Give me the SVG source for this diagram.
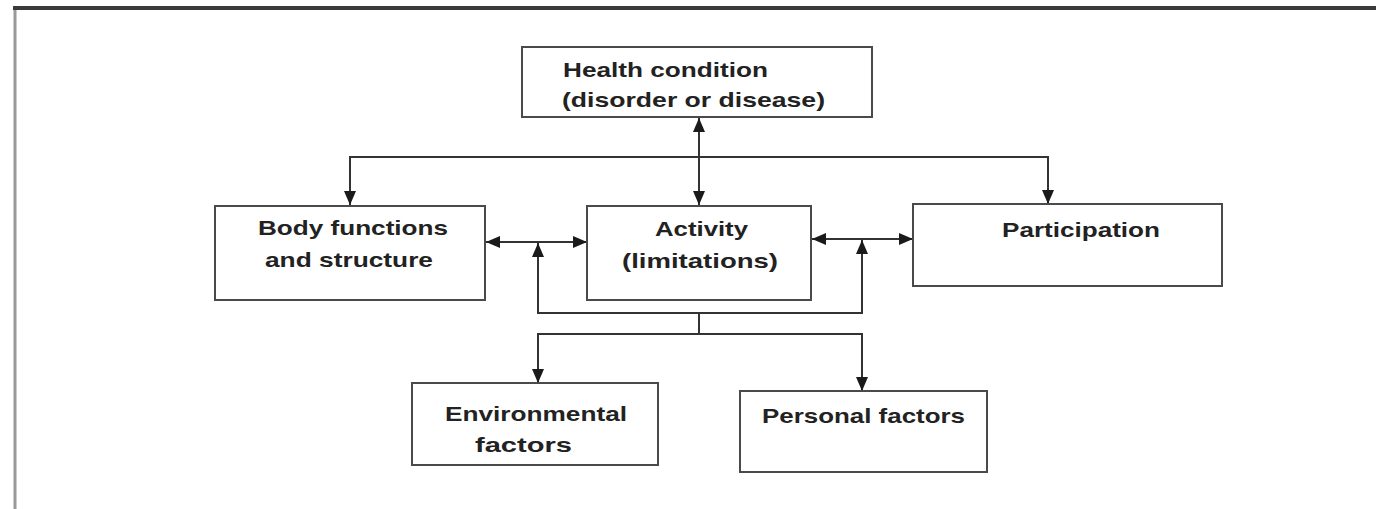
<svg xmlns="http://www.w3.org/2000/svg" width="1376" height="509" viewBox="0 0 1376 509">
<style>
.box{fill:#fff;stroke:#4a4a4a;stroke-width:2}
.t{font-family:"Liberation Sans",Arial,sans-serif;font-weight:bold;font-size:21px;fill:#222}
.c{fill:none;stroke:#333;stroke-width:2}
</style>
<defs>
<marker id="ah" viewBox="0 0 14 12" refX="14" refY="6" markerWidth="14" markerHeight="12" markerUnits="userSpaceOnUse" orient="auto-start-reverse">
<path d="M0,0 L14,6 L0,12 Z" fill="#1a1a1a"/>
</marker>
</defs>
<rect width="1376" height="509" fill="#fff"/>
<g id="frame">
<line x1="15" y1="9" x2="15" y2="509" stroke="#9a9a9a" stroke-width="3"/>
<line x1="13" y1="8" x2="1376" y2="8" stroke="#3a3a3a" stroke-width="4"/>
</g>
<g id="connectors">
<line class="c" x1="699" y1="118" x2="699" y2="205" marker-start="url(#ah)" marker-end="url(#ah)"/>
<polyline class="c" points="350,205 350,157 1048,157 1048,204" marker-start="url(#ah)" marker-end="url(#ah)"/>
<line class="c" x1="486" y1="242" x2="587" y2="242" marker-start="url(#ah)" marker-end="url(#ah)"/>
<line class="c" x1="812" y1="239" x2="913" y2="239" marker-start="url(#ah)" marker-end="url(#ah)"/>
<polyline class="c" points="538,243 538,313 862,313 862,240" marker-start="url(#ah)" marker-end="url(#ah)"/>
<line class="c" x1="699" y1="313" x2="699" y2="334"/>
<polyline class="c" points="538,383 538,334 862,334 862,391" marker-start="url(#ah)" marker-end="url(#ah)"/>
</g>
<g id="health">
<rect class="box" x="522" y="47" width="350" height="70"/>
<text class="t" x="563" y="77" textLength="205" lengthAdjust="spacingAndGlyphs">Health condition</text>
<text class="t" x="562" y="107" textLength="263" lengthAdjust="spacingAndGlyphs">(disorder or disease)</text>
</g>
<g id="body">
<rect class="box" x="215" y="206" width="270" height="94"/>
<text class="t" x="258" y="235" textLength="190" lengthAdjust="spacingAndGlyphs">Body functions</text>
<text class="t" x="265" y="267" textLength="168" lengthAdjust="spacingAndGlyphs">and structure</text>
</g>
<g id="activity">
<rect class="box" x="587" y="206" width="224" height="94"/>
<text class="t" x="655" y="236" textLength="93" lengthAdjust="spacingAndGlyphs">Activity</text>
<text class="t" x="622" y="268" textLength="156" lengthAdjust="spacingAndGlyphs">(limitations)</text>
</g>
<g id="participation">
<rect class="box" x="913" y="204" width="309" height="82"/>
<text class="t" x="1002" y="237" textLength="158" lengthAdjust="spacingAndGlyphs">Participation</text>
</g>
<g id="environmental">
<rect class="box" x="412" y="383" width="246" height="82"/>
<text class="t" x="445" y="421" textLength="182" lengthAdjust="spacingAndGlyphs">Environmental</text>
<text class="t" x="475" y="452" textLength="97" lengthAdjust="spacingAndGlyphs">factors</text>
</g>
<g id="personal">
<rect class="box" x="740" y="391" width="247" height="81"/>
<text class="t" x="762" y="423" textLength="203" lengthAdjust="spacingAndGlyphs">Personal factors</text>
</g>
</svg>
